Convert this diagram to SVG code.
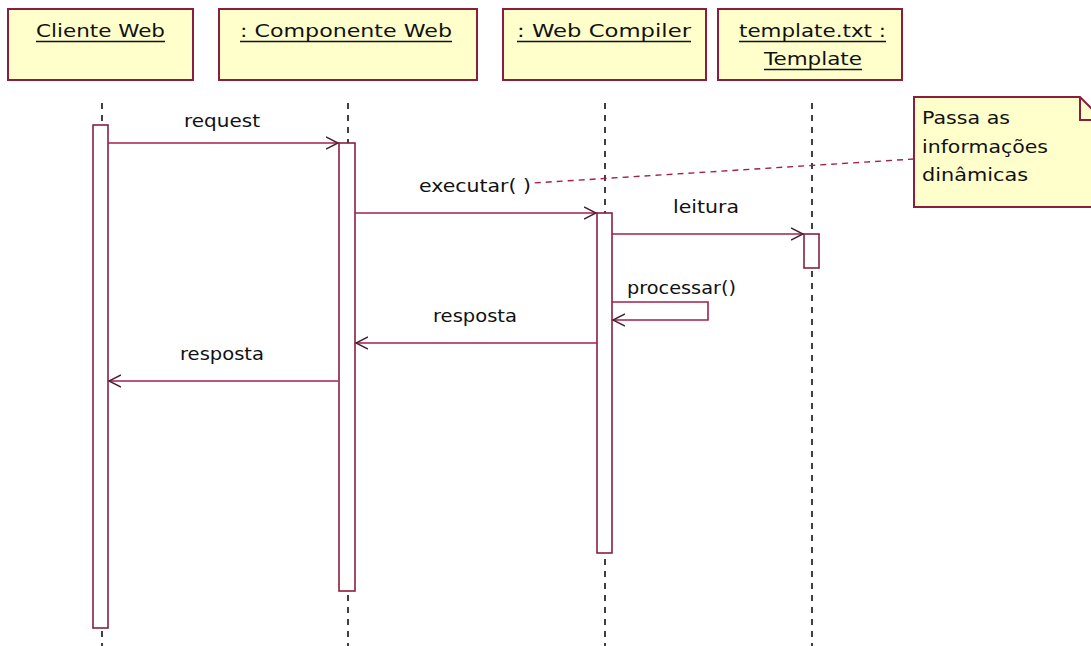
<svg xmlns="http://www.w3.org/2000/svg" width="1091" height="646" viewBox="0 0 1091 646">
<style>
.box{fill:#FFFFCC;stroke:#8B1E3F;stroke-width:2}
.t{font-family:"DejaVu Sans","Liberation Sans",sans-serif;font-size:17px;fill:#111}
.ul{stroke:#111;stroke-width:1.5}
.life{stroke:#111;stroke-width:1.6;stroke-dasharray:6,6;fill:none}
.act{fill:#fff;stroke:#8B1E3F;stroke-width:1.6}
.msg{stroke:#A3204C;stroke-width:1.6;fill:none}
.note{fill:#FFFFCC;stroke:#8B1E3F;stroke-width:2}
.nl{stroke:#A3204C;stroke-width:1.4;stroke-dasharray:6,5;fill:none}
</style>
<defs>
<marker id="arr" markerWidth="14" markerHeight="14" refX="12" refY="7" orient="auto" markerUnits="userSpaceOnUse">
<path d="M0,1 L12,7 L0,13" fill="none" stroke="#4a2030" stroke-width="1.4"/>
</marker>
</defs>
<rect width="1091" height="646" fill="#fff"/>

<g id="lifelines">
<line class="life" x1="102" y1="103" x2="102" y2="646"/>
<line class="life" x1="348" y1="103" x2="348" y2="646"/>
<line class="life" x1="605" y1="103" x2="605" y2="646"/>
<line class="life" x1="812" y1="103" x2="812" y2="646"/>
</g>

<g id="cliente">
<rect class="box" x="8" y="9" width="185" height="71"/>
<text class="t" x="36" y="37" textLength="129" lengthAdjust="spacingAndGlyphs">Cliente Web</text>
<line class="ul" x1="36" y1="41.5" x2="165" y2="41.5"/>
<rect class="act" x="93" y="125" width="15" height="503"/>
</g>

<g id="componente">
<rect class="box" x="219" y="9" width="258" height="71"/>
<text class="t" x="240" y="37" textLength="212" lengthAdjust="spacingAndGlyphs">: Componente Web</text>
<line class="ul" x1="240" y1="41.5" x2="452" y2="41.5"/>
<rect class="act" x="339" y="143" width="16" height="448"/>
</g>

<g id="compiler">
<rect class="box" x="503" y="9" width="203" height="71"/>
<text class="t" x="517" y="37" textLength="174" lengthAdjust="spacingAndGlyphs">: Web Compiler</text>
<line class="ul" x1="517" y1="41.5" x2="691" y2="41.5"/>
<rect class="act" x="597" y="213" width="15" height="340"/>
</g>

<g id="template">
<rect class="box" x="718" y="9" width="184" height="71"/>
<text class="t" x="739" y="37" textLength="147" lengthAdjust="spacingAndGlyphs">template.txt :</text>
<line class="ul" x1="739" y1="41.5" x2="886" y2="41.5"/>
<text class="t" x="764" y="65" textLength="98" lengthAdjust="spacingAndGlyphs">Template</text>
<line class="ul" x1="764" y1="69.5" x2="862" y2="69.5"/>
<rect class="act" x="804" y="234" width="15" height="34"/>
</g>

<g id="nota">
<path class="note" d="M914,97 L1080,97 L1103,120 L1103,207 L914,207 Z"/>
<path d="M1080,97 L1080,120 L1103,120" fill="none" stroke="#8B1E3F" stroke-width="2"/>
<text class="t" x="922" y="124" textLength="88" lengthAdjust="spacingAndGlyphs">Passa as</text>
<text class="t" x="922" y="153" textLength="126" lengthAdjust="spacingAndGlyphs">informações</text>
<text class="t" x="922" y="181" textLength="106" lengthAdjust="spacingAndGlyphs">dinâmicas</text>
</g>

<g id="connectors">
<line class="nl" x1="914" y1="159" x2="533" y2="183"/>
<line class="msg" x1="108" y1="143" x2="338" y2="143" marker-end="url(#arr)"/>
<text class="t" x="184" y="127" textLength="76" lengthAdjust="spacingAndGlyphs">request</text>
<line class="msg" x1="355" y1="213" x2="596" y2="213" marker-end="url(#arr)"/>
<text class="t" x="419" y="192" textLength="112" lengthAdjust="spacingAndGlyphs">executar( )</text>
<line class="msg" x1="612" y1="234" x2="803" y2="234" marker-end="url(#arr)"/>
<text class="t" x="673" y="213" textLength="66" lengthAdjust="spacingAndGlyphs">leitura</text>
<polyline class="msg" points="612,302 708,302 708,320 613,320" marker-end="url(#arr)"/>
<text class="t" x="627" y="294" textLength="109" lengthAdjust="spacingAndGlyphs">processar()</text>
<line class="msg" x1="597" y1="343" x2="356" y2="343" marker-end="url(#arr)"/>
<text class="t" x="433" y="322" textLength="84" lengthAdjust="spacingAndGlyphs">resposta</text>
<line class="msg" x1="338" y1="381" x2="109" y2="381" marker-end="url(#arr)"/>
<text class="t" x="180" y="360" textLength="84" lengthAdjust="spacingAndGlyphs">resposta</text>
</g>
</svg>
